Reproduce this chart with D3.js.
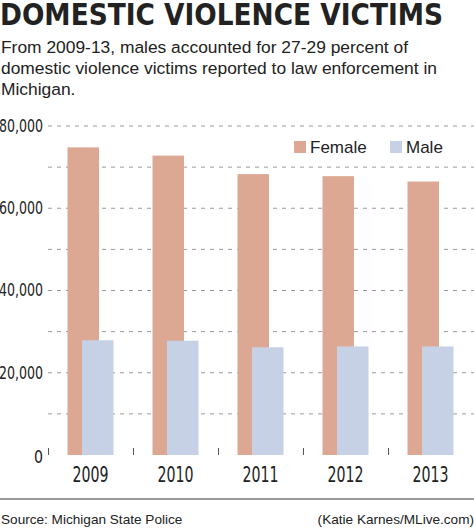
<!DOCTYPE html>
<html><head><meta charset="utf-8">
<script src="https://cdn.jsdelivr.net/npm/d3@7"></script>
<style>
html,body{margin:0;padding:0;background:#fff;}
svg{display:block;}
.cond{font-family:"DejaVu Sans Condensed","Liberation Sans Narrow","Arial Narrow",sans-serif;font-stretch:condensed;}
.reg{font-family:"Liberation Sans","Arial",sans-serif;}
</style></head>
<body>
<script>
const years = ["2009","2010","2011","2012","2013"];
const female = [74800, 72800, 68300, 67800, 66500];
const male = [27900, 27800, 26200, 26400, 26400];
const yTicks = [0, 20000, 40000, 60000, 80000];
const gridValues = [10000, 20000, 30000, 40000, 50000, 60000, 70000, 80000];
const seriesNames = ["Female", "Male"];
const colors = {Female: "#dca893", Male: "#c6d1e6"};

const W = 474, H = 531;
const svg = d3.select("body").append("svg").attr("width", W).attr("height", H);

// Title
svg.append("text").attr("class","cond").attr("x",0).attr("y",25)
  .attr("font-size",30).attr("font-weight","bold").attr("fill","#222")
  .attr("textLength",443).attr("lengthAdjust","spacingAndGlyphs")
  .text("DOMESTIC VIOLENCE VICTIMS");

const sub = ["From 2009-13, males accounted for 27-29 percent of",
  "domestic violence victims reported to law enforcement in",
  "Michigan."];
svg.append("g").selectAll("text").data(sub).join("text")
  .attr("class","reg").attr("x",1).attr("y",(d,i)=>53+i*21)
  .attr("font-size",17.4).attr("fill","#222").text(d=>d);

const x = d3.scaleBand().domain(years).range([48, 473]);
const y = d3.scaleLinear().domain([0, 80000]).range([455, 126]);

// grid
svg.append("g").selectAll("line").data(gridValues).join("line")
  .attr("x1",48).attr("x2",W).attr("y1",d=>y(d)).attr("y2",d=>y(d))
  .attr("stroke","#9a9a9a").attr("stroke-width",1).attr("stroke-dasharray","4,5");

// y axis labels
const yAxis = d3.axisLeft(y).tickValues(yTicks).tickSize(0).tickPadding(0)
  .tickFormat(d3.format(","));
const ya = svg.append("g").attr("transform","translate(43,0)").call(yAxis);
ya.select(".domain").remove();
ya.selectAll("text").attr("class","cond").attr("font-size",17).attr("fill","#222")
  .attr("font-family",null)
  .each(function(d){ if(d>0) d3.select(this).attr("textLength",44).attr("lengthAdjust","spacingAndGlyphs"); else d3.select(this).attr("textLength",9).attr("lengthAdjust","spacingAndGlyphs").attr("dy","0.45em"); });

// x labels
const xAxis = d3.axisBottom(x).tickSize(0).tickPadding(14);
const xa = svg.append("g").attr("transform","translate(0,455)").call(xAxis);
xa.select(".domain").remove();
xa.selectAll("text").attr("class","cond").attr("font-size",21).attr("fill","#222")
  .attr("font-family",null).attr("dy","0.62em")
  .attr("textLength",36).attr("lengthAdjust","spacingAndGlyphs");
// x tick marks between bands
svg.append("g").selectAll("line").data(years).join("line")
  .attr("x1",d=>x(d)+0.5).attr("x2",d=>x(d)+0.5).attr("y1",448).attr("y2",455)
  .attr("stroke","#555").attr("stroke-width",1);

// bars
const bw = 31.5, off = 14.5;
const g = svg.append("g");
g.selectAll("rect.f").data(years).join("rect").attr("class","f")
  .attr("x",d=>x(d)+x.bandwidth()/2-23).attr("width",bw)
  .attr("y",(d,i)=>y(female[i])).attr("height",(d,i)=>y(0)-y(female[i]))
  .attr("fill",colors.Female);
g.selectAll("rect.m").data(years).join("rect").attr("class","m")
  .attr("x",d=>x(d)+x.bandwidth()/2-23+off).attr("width",bw)
  .attr("y",(d,i)=>y(male[i])).attr("height",(d,i)=>y(0)-y(male[i]))
  .attr("fill",colors.Male);

// legend
const lx = [294, 390];
const lg = svg.append("g").selectAll("g").data(seriesNames).join("g")
  .attr("transform",(d,i)=>`translate(${lx[i]},141)`);
lg.append("rect").attr("width",12).attr("height",12).attr("fill",d=>colors[d]);
lg.append("text").attr("class","reg").attr("x",16).attr("y",11.5)
  .attr("font-size",17).attr("fill","#222").text(d=>d);

// bottom rule & footer
svg.append("line").attr("x1",0).attr("x2",W).attr("y1",499).attr("y2",499)
  .attr("stroke","#777").attr("stroke-width",1.5);
svg.append("text").attr("class","reg").attr("x",1).attr("y",524)
  .attr("font-size",13.6).attr("fill","#222").text("Source: Michigan State Police");
svg.append("text").attr("class","reg").attr("x",W).attr("y",524).attr("text-anchor","end")
  .attr("font-size",13.6).attr("fill","#222").text("(Katie Karnes/MLive.com)");
</script>
</body></html>
